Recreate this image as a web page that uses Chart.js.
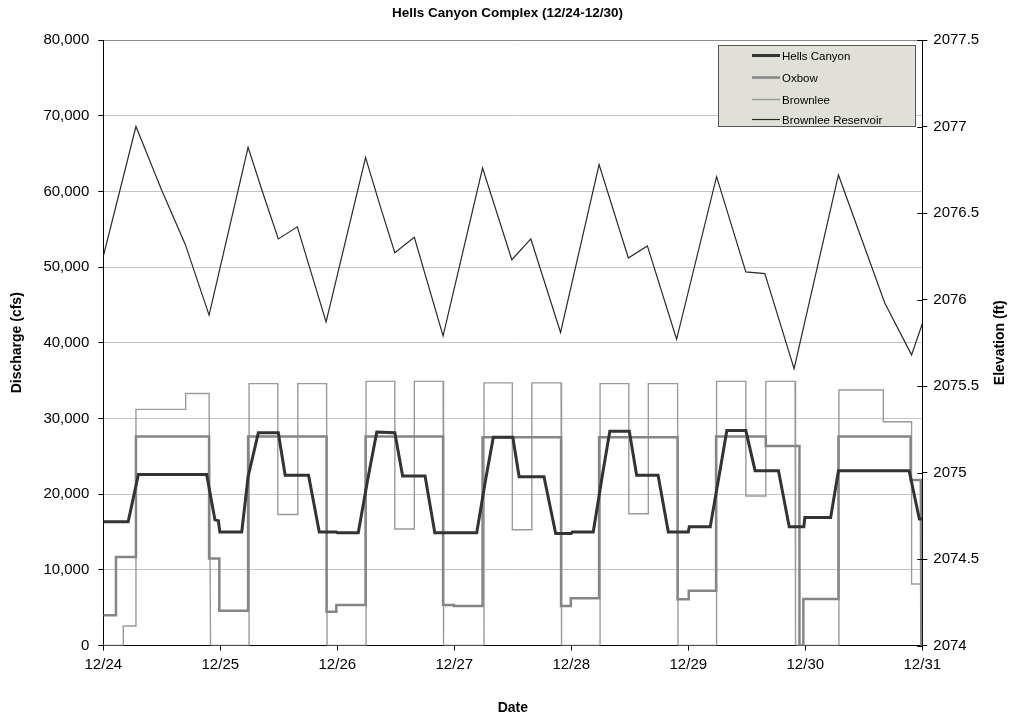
<!DOCTYPE html>
<html>
<head>
<meta charset="utf-8">
<script src="https://cdn.jsdelivr.net/npm/chart.js@4.4.1/dist/chart.umd.min.js"></script>
<style>
  html, body { margin: 0; padding: 0; background: #fff; }
  #wrap { width: 1015px; height: 719px; }
</style>
</head>
<body>
<div id="wrap"><canvas id="chart" width="1015" height="719"></canvas></div>
<script>
// x is hours since 12/24 00:00, one tick per day
const dateLabels = ['12/24', '12/25', '12/26', '12/27', '12/28', '12/29', '12/30', '12/31'];
const flowTicks = [0, 10000, 20000, 30000, 40000, 50000, 60000, 70000, 80000];
const elevTicks = [2074, 2074.5, 2075, 2075.5, 2076, 2076.5, 2077, 2077.5];

// Hells Canyon discharge (cfs), breakpoints
const hellsHours = [0, 5.1, 7.2, 21.2, 22.9, 23.6, 23.9, 28.4, 29.7, 31.8, 35.9, 37.3, 42.1, 44.3, 47.8, 48.0, 52.3, 54.4, 56.1,
  59.8, 61.4, 66, 68, 76.6, 78.5, 80, 84, 85.3, 90.4, 92.8, 96, 96.2, 100.5, 102.4, 103.9, 107.9, 109.4, 113.8, 115.9,
  120, 120.2, 124.5, 126.5, 127.9, 131.8, 133.7, 138.5, 140.7, 143.7, 143.9, 149.2, 150.8, 165.3, 167.4, 168];
const hellsFlow = [16350, 16350, 22600, 22600, 16600, 16500, 15000, 15000, 22300, 28100, 28100, 22500, 22500, 15000, 15000, 14900, 14900, 22500, 28200,
  28100, 22400, 22400, 14900, 14900, 22200, 27500, 27500, 22300, 22300, 14800, 14800, 15000, 15000, 22600, 28300, 28300, 22500, 22500, 15000,
  15000, 15700, 15700, 23100, 28400, 28400, 23100, 23100, 15700, 15700, 16900, 16900, 23100, 23100, 16700, 16700];

// Oxbow discharge (cfs)
const oxbowHours = [0, 2.6, 2.6, 6.7, 6.7, 21.7, 21.7, 23.8, 23.8, 29.7, 29.7, 45.8, 45.8, 47.8, 47.8, 53.8, 53.8, 69.7, 69.7, 71.9, 71.9, 77.8,
  77.8, 93.9, 93.9, 95.9, 95.9, 101.7, 101.7, 117.8, 117.8, 120, 120.1, 125.7, 125.7, 135.9, 135.9, 142.8, 142.8, 143.6, 143.6, 150.8,
  150.8, 165.6, 165.6, 167.7, 167.8, 168];
const oxbowFlow = [3990, 3990, 11700, 11700, 27600, 27600, 11500, 11500, 4600, 4600, 27600, 27600, 4470, 4470, 5350, 5350, 27600, 27600, 5350, 5350, 5220, 5220,
  27500, 27500, 5220, 5220, 6230, 6230, 27500, 27500, 6100, 6100, 7240, 7240, 27600, 27600, 26350, 26350, 0, 0, 6140, 6140,
  27600, 27600, 21860, 21860, 0, 0];

// Brownlee discharge (cfs)
const brownleeHours = [0, 4.1, 4.1, 6.7, 6.7, 16.9, 16.9, 21.7, 22, 29.9, 29.9, 35.8, 35.8, 39.9, 39.9, 45.8, 45.9, 53.9, 53.9, 59.8, 59.8,
  63.8, 63.8, 69.7, 69.8, 78.1, 78.1, 83.9, 83.9, 87.9, 87.9, 93.9, 94, 101.9, 101.9, 107.8, 107.8, 111.8, 111.8, 117.8, 117.9,
  125.8, 125.8, 131.8, 131.8, 135.9, 135.9, 141.9, 142, 150.9, 150.9, 160, 160, 165.8, 165.8, 167.7, 167.8, 168];
const brownleeFlow = [0, 0, 2580, 2580, 31200, 31200, 33300, 33300, 0, 0, 34600, 34600, 17300, 17300, 34600, 34600, 0, 0, 34900, 34900, 15400,
  15400, 34900, 34900, 0, 0, 34700, 34700, 15300, 15300, 34700, 34700, 0, 0, 34600, 34600, 17400, 17400, 34600, 34600, 0,
  0, 34900, 34900, 19750, 19750, 34900, 34900, 0, 0, 33750, 33750, 29560, 29560, 8120, 8120, 0, 0];

// Brownlee Reservoir elevation (ft)
const reservoirHours = [0, 6.7, 12.0, 16.8, 21.7, 29.7, 32.8, 35.9, 39.8, 45.7, 53.8, 56.8, 59.8, 63.8, 69.7, 77.8, 83.8, 87.7, 93.8,
  101.7, 107.7, 111.6, 117.6, 125.8, 131.8, 135.7, 141.7, 150.8, 160.3, 165.8, 168];
const reservoirElev = [2076.25, 2077.0, 2076.63, 2076.32, 2075.91, 2076.88, 2076.61, 2076.35, 2076.42, 2075.87, 2076.82, 2076.54, 2076.27, 2076.36, 2075.79, 2076.76, 2076.23, 2076.35, 2075.81,
  2076.78, 2076.24, 2076.31, 2075.77, 2076.71, 2076.16, 2076.15, 2075.60, 2076.72, 2075.98, 2075.68, 2075.86];

function toPoints(xs, ys) {
  return xs.map((x, i) => ({ x: x, y: ys[i] }));
}

const FONT = "'Liberation Sans', Arial, sans-serif";
Chart.defaults.font.family = FONT;
Chart.defaults.color = '#000';

// legend box drawn inside the plot, top right
const boxLegend = {
  id: 'boxLegend',
  afterDraw(chart) {
    const ctx = chart.ctx;
    const x = 718.5, y = 45.5, w = 197, h = 81;
    ctx.save();
    ctx.fillStyle = '#e0e0d9';
    ctx.strokeStyle = '#555';
    ctx.lineWidth = 1;
    ctx.fillRect(x, y, w, h);
    ctx.strokeRect(x, y, w, h);
    ctx.font = '11.5px ' + FONT;
    ctx.textBaseline = 'middle';
    ctx.fillStyle = '#000';
    const rows = [55, 77, 99, 119];
    chart.data.datasets.forEach((ds, i) => {
      const ry = rows[i] + 0.5;
      ctx.beginPath();
      ctx.strokeStyle = ds.borderColor;
      ctx.lineWidth = ds.borderWidth;
      ctx.moveTo(752, ry);
      ctx.lineTo(780, ry);
      ctx.stroke();
      ctx.fillText(ds.label, 782, ry + 1);
    });
    ctx.restore();
  }
};

// right axis ticks cross the axis line; title reads bottom to top
const rightAxisExtras = {
  id: 'rightAxisExtras',
  afterDraw(chart) {
    const ctx = chart.ctx;
    const sc = chart.scales.y2;
    const area = chart.chartArea;
    ctx.save();
    ctx.strokeStyle = '#000';
    ctx.lineWidth = 1;
    sc.ticks.forEach(t => {
      const py = Math.round(sc.getPixelForValue(t.value)) + 0.5;
      ctx.beginPath();
      ctx.moveTo(area.right - 5, py);
      ctx.lineTo(area.right, py);
      ctx.stroke();
    });
    ctx.translate(1000, (area.top + area.bottom) / 2);
    ctx.rotate(-Math.PI / 2);
    ctx.font = 'bold 14px ' + FONT;
    ctx.textAlign = 'center';
    ctx.textBaseline = 'middle';
    ctx.fillStyle = '#000';
    ctx.fillText('Elevation (ft)', 0, 0);
    ctx.restore();
  }
};

new Chart(document.getElementById('chart'), {
  type: 'line',
  data: {
    datasets: [
      { label: 'Hells Canyon', data: toPoints(hellsHours, hellsFlow), borderColor: '#333333', borderWidth: 3, yAxisID: 'y' },
      { label: 'Oxbow', data: toPoints(oxbowHours, oxbowFlow), borderColor: '#858585', borderWidth: 2.5, yAxisID: 'y' },
      { label: 'Brownlee', data: toPoints(brownleeHours, brownleeFlow), borderColor: '#9a9a9a', borderWidth: 1.4, yAxisID: 'y' },
      { label: 'Brownlee Reservoir', data: toPoints(reservoirHours, reservoirElev), borderColor: '#2a2a2a', borderWidth: 1.2, yAxisID: 'y2' }
    ]
  },
  options: {
    responsive: false,
    animation: false,
    events: [],
    elements: {
      point: { radius: 0 },
      line: { tension: 0, fill: false, borderJoinStyle: 'miter' }
    },
    layout: { padding: 0 },
    plugins: {
      legend: { display: false },
      tooltip: { enabled: false },
      title: {
        display: true,
        text: 'Hells Canyon Complex (12/24-12/30)',
        font: { size: 13.5, weight: 'bold' },
        color: '#000',
        padding: { top: 5, bottom: 18.8 }
      }
    },
    scales: {
      x: {
        type: 'linear',
        min: 0,
        max: 168,
        afterBuildTicks: sc => { sc.ticks = dateLabels.map((d, i) => ({ value: i * 24 })); },
        ticks: {
          callback: v => dateLabels[Math.round(v / 24)],
          font: { size: 15 },
          padding: 5,
          maxRotation: 0,
          autoSkip: false
        },
        grid: { drawOnChartArea: false, tickLength: 5, tickColor: '#000' },
        border: { color: '#000' },
        title: { display: true, text: 'Date', font: { size: 14, weight: 'bold' }, padding: { top: 0, bottom: 2 } },
        afterFit: sc => { sc.height = 73.5; }
      },
      y: {
        position: 'left',
        min: 0,
        max: 80000,
        afterBuildTicks: sc => { sc.ticks = flowTicks.map(v => ({ value: v })); },
        ticks: {
          callback: v => v.toLocaleString('en-US'),
          font: { size: 15 },
          padding: 9
        },
        grid: {
          color: c => (c.tick && c.tick.value === 80000) ? '#8a8a8a' : '#c4c4c4',
          tickColor: '#000',
          tickLength: 5
        },
        border: { color: '#000' },
        title: { display: true, text: 'Discharge (cfs)', font: { size: 14, weight: 'bold' }, padding: { top: 9, bottom: 0 } },
        afterFit: sc => { sc.width = 103.3; }
      },
      y2: {
        position: 'right',
        min: 2074,
        max: 2077.5,
        afterBuildTicks: sc => { sc.ticks = elevTicks.map(v => ({ value: v })); },
        ticks: {
          callback: v => String(v),
          font: { size: 15 },
          padding: 6
        },
        grid: { drawOnChartArea: false, tickLength: 5, tickColor: '#000' },
        border: { color: '#000' },
        afterFit: sc => { sc.width = 92.7; }
      }
    }
  },
  plugins: [boxLegend, rightAxisExtras]
});
</script>
</body>
</html>
